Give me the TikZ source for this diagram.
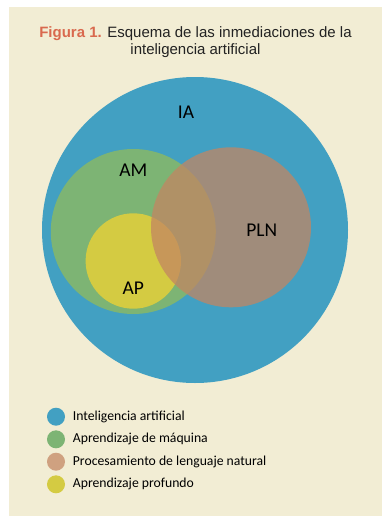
\documentclass[tikz,border=0pt]{standalone}
\usepackage{fontspec}
\setmainfont{Liberation Sans}
\newfontfamily\lblfont{Carlito}
\definecolor{bgbeige}{RGB}{242,237,212}
\definecolor{iablue}{RGB}{66,160,194}
\definecolor{amgreen}{RGB}{125,180,116}
\definecolor{apyellow}{RGB}{212,203,66}
\definecolor{plnbrown}{RGB}{195,133,98}
\definecolor{titlered}{RGB}{217,105,78}
\definecolor{txtgray}{RGB}{34,34,34}
\tikzset{
  vennlbl/.style={font=\lblfont\fontsize{19.5}{21}\selectfont, text=black, inner sep=0pt},
  legdot/.style={circle, minimum size=18pt, inner sep=0pt},
  legtext/.style={font=\lblfont\fontsize{13.7}{15}\selectfont, text=black, anchor=west, inner sep=0pt},
  plnfill/.style={fill=plnbrown, fill opacity=0.73}
}
\begin{document}
\begin{tikzpicture}[x=1pt,y=-1pt]
\useasboundingbox (0,0) rectangle (391,525);
\fill[white] (0,0) rectangle (391,525);
\fill[bgbeige] (9,7) rectangle (382,516);
% title
\node[font=\fontsize{15}{17}\selectfont, text=txtgray, align=center, inner sep=0pt] (title) at (195.5,42.5)
  {{\bfseries\color{titlered}Figura 1.} Esquema de las inmediaciones de la\\inteligencia artificial};
% circles
\fill[iablue] (195,230) circle[radius=153];
\fill[amgreen] (133.3,231.5) circle[radius=82.5];
\fill[apyellow] (133.3,261) circle[radius=47.7];
\fill[plnfill] (231,227.3) circle[radius=80];
% labels
\node[vennlbl] (ia) at (186,112.7) {IA};
\node[vennlbl] (am) at (133.3,170.7) {AM};
\node[vennlbl] (pln) at (261.7,230) {PLN};
\node[vennlbl] (ap) at (133.3,288) {AP};
% legend
\node[legdot, fill=iablue] (d1) at (56,416.7) {};
\node[legdot, fill=amgreen] (d2) at (56,439.3) {};
\node[legdot, plnfill] (d3) at (56,461.7) {};
\node[legdot, fill=apyellow] (d4) at (56,484.3) {};
\node[legtext] (t1) at (72.7,416.7) {Inteligencia artificial};
\node[legtext] (t2) at (72.7,439.3) {Aprendizaje de máquina};
\node[legtext] (t3) at (72.7,461.7) {Procesamiento de lenguaje natural};
\node[legtext] (t4) at (72.7,484.3) {Aprendizaje profundo};
\end{tikzpicture}
\end{document}
